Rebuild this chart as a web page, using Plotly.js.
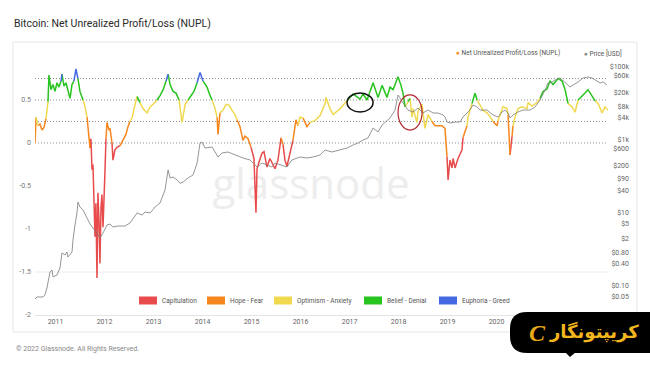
<!DOCTYPE html>
<html><head><meta charset="utf-8">
<script src="https://cdn.plot.ly/plotly-3.0.1.min.js"></script>
<style>html,body{margin:0;padding:0;background:#fff;} #chart{width:650px;height:365px;}</style>
</head><body><div id="chart"></div>
<script>
// ---------- DATA ----------
const nuplYear = [2010.582,2010.603,2010.644,2010.684,2010.725,2010.766,2010.807,2010.848,2010.868,2010.909,2010.950,2010.990,2011.031,2011.072,2011.113,2011.133,2011.174,2011.215,2011.256,2011.297,2011.337,2011.378,2011.419,2011.460,2011.501,2011.562,2011.603,2011.644,2011.664,2011.705,2011.725,2011.746,2011.766,2011.807,2011.827,2011.848,2011.868,2011.888,2011.909,2011.929,2011.950,2011.970,2011.990,2012.011,2012.031,2012.052,2012.092,2012.113,2012.154,2012.174,2012.215,2012.256,2012.317,2012.378,2012.439,2012.480,2012.521,2012.562,2012.623,2012.664,2012.725,2012.786,2012.868,2012.929,2012.990,2013.072,2013.133,2013.195,2013.256,2013.297,2013.337,2013.399,2013.460,2013.521,2013.582,2013.644,2013.705,2013.766,2013.827,2013.888,2013.950,2014.011,2014.092,2014.154,2014.195,2014.256,2014.297,2014.317,2014.358,2014.419,2014.480,2014.541,2014.603,2014.664,2014.705,2014.766,2014.827,2014.868,2014.929,2014.990,2015.052,2015.092,2015.113,2015.154,2015.215,2015.256,2015.317,2015.378,2015.439,2015.480,2015.541,2015.603,2015.644,2015.684,2015.725,2015.786,2015.848,2015.909,2015.950,2015.990,2016.052,2016.113,2016.133,2016.195,2016.297,2016.399,2016.501,2016.521,2016.603,2016.664,2016.807,2016.950,2017.072,2017.215,2017.276,2017.358,2017.480,2017.582,2017.664,2017.766,2017.827,2017.888,2017.990,2018.052,2018.092,2018.133,2018.195,2018.235,2018.276,2018.297,2018.378,2018.399,2018.480,2018.501,2018.541,2018.603,2018.684,2018.746,2018.888,2018.950,2018.990,2019.011,2019.052,2019.092,2019.113,2019.154,2019.215,2019.256,2019.297,2019.317,2019.399,2019.419,2019.501,2019.562,2019.603,2019.664,2019.725,2019.807,2019.868,2019.929,2020.011,2020.031,2020.072,2020.133,2020.215,2020.235,2020.276,2020.317,2020.337,2020.378,2020.439,2020.521,2020.623,2020.644,2020.725,2020.827,2020.888,2020.950,2021.031,2021.092,2021.154,2021.256,2021.337,2021.399,2021.460,2021.541,2021.603,2021.664,2021.746,2021.807,2021.868,2021.950,2022.011,2022.072,2022.154,2022.215,2022.276];
const nuplValue = [0.00,0.30,0.20,0.22,0.15,0.18,0.28,0.48,0.79,0.62,0.68,0.60,0.70,0.65,0.72,0.80,0.66,0.70,0.62,0.52,0.68,0.72,0.86,0.75,0.60,0.50,0.42,0.30,0.15,-0.06,0.05,-0.31,-0.25,-1.09,-0.70,-1.57,-0.58,-0.90,-1.40,-0.75,-0.60,-0.98,-0.50,-0.31,0.05,0.24,0.15,0.17,0.00,-0.20,-0.08,-0.05,-0.03,0.03,0.10,0.19,0.25,0.29,0.45,0.54,0.47,0.40,0.35,0.42,0.45,0.50,0.55,0.62,0.72,0.80,0.68,0.60,0.58,0.50,0.24,0.45,0.50,0.55,0.60,0.70,0.82,0.72,0.65,0.55,0.50,0.40,0.30,0.10,0.35,0.38,0.45,0.44,0.38,0.33,0.27,0.19,0.03,0.08,0.05,-0.05,-0.18,-0.81,-0.30,-0.22,-0.12,-0.10,-0.28,-0.18,-0.25,-0.30,-0.20,0.06,-0.02,-0.20,-0.27,-0.12,0.03,0.27,0.20,0.30,0.29,0.20,0.19,0.24,0.26,0.32,0.46,0.53,0.40,0.33,0.40,0.49,0.57,0.51,0.57,0.50,0.70,0.53,0.67,0.53,0.65,0.62,0.77,0.67,0.58,0.42,0.48,0.52,0.30,0.40,0.24,0.37,0.45,0.35,0.17,0.33,0.25,0.20,0.20,0.17,-0.16,-0.43,-0.20,-0.29,-0.18,-0.29,-0.18,-0.13,-0.08,0.06,0.20,0.30,0.46,0.58,0.50,0.44,0.38,0.35,0.31,0.25,0.20,0.26,0.33,0.42,0.40,0.33,-0.14,0.08,0.20,0.30,0.40,0.42,0.40,0.47,0.43,0.47,0.52,0.60,0.63,0.72,0.68,0.75,0.72,0.62,0.46,0.42,0.36,0.50,0.54,0.58,0.62,0.54,0.49,0.46,0.35,0.42,0.38];

const priceYear = [2010.582,2010.623,2010.746,2010.786,2010.827,2010.888,2010.929,2010.950,2011.031,2011.092,2011.133,2011.195,2011.235,2011.256,2011.337,2011.358,2011.399,2011.439,2011.460,2011.501,2011.562,2011.644,2011.705,2011.766,2011.848,2011.909,2011.970,2012.052,2012.113,2012.174,2012.276,2012.419,2012.521,2012.664,2012.766,2012.827,2012.929,2013.031,2013.133,2013.235,2013.297,2013.337,2013.399,2013.480,2013.541,2013.603,2013.705,2013.807,2013.888,2013.950,2013.990,2014.052,2014.195,2014.317,2014.399,2014.521,2014.664,2014.827,2014.970,2015.113,2015.215,2015.317,2015.419,2015.480,2015.582,2015.725,2015.827,2015.929,2015.990,2016.133,2016.256,2016.399,2016.501,2016.644,2016.807,2016.950,2017.072,2017.174,2017.276,2017.378,2017.480,2017.582,2017.664,2017.725,2017.827,2017.929,2017.990,2018.031,2018.092,2018.195,2018.297,2018.399,2018.501,2018.603,2018.705,2018.807,2018.909,2018.950,2018.990,2019.052,2019.154,2019.256,2019.317,2019.399,2019.460,2019.521,2019.603,2019.664,2019.807,2019.929,2020.031,2020.113,2020.174,2020.235,2020.276,2020.337,2020.439,2020.542,2020.684,2020.786,2020.888,2020.990,2021.052,2021.133,2021.195,2021.297,2021.399,2021.501,2021.562,2021.664,2021.766,2021.868,2021.950,2022.011,2022.113,2022.174,2022.256];
const priceUsd = [0.044,0.05,0.05,0.057,0.088,0.242,0.274,0.177,0.20,0.311,0.80,0.71,0.855,0.62,0.855,1.82,4.69,10,20,14.6,12.1,7.29,5.0,3.88,2.83,2.07,2.83,4.69,5.0,4.13,4.40,4.40,5.32,10,8.81,10.6,10,14.6,18.8,42.7,151,91,96.9,80.2,65,70.7,91,110,234,828,882,604,643,342,441,469,388,321,283,182,234,207,182,234,207,182,283,321,342,321,342,388,532,469,532,604,730,828,1000,1134,2132,1656,2576,3113,4008,6637,17100,14150,10327,6637,5848,7533,5495,6637,5495,5495,4842,4266,3113,2924,3113,3113,4266,5495,6637,9099,8017,6637,6637,4842,4266,5848,6637,5495,4008,4842,5848,6637,6637,8017,12470,23440,36470,38810,44050,50000,36470,28310,32130,38810,50000,53210,50000,44050,36470,38810,32130];

const zoneNames = ['Capitulation','Hope - Fear','Optimism - Anxiety','Belief - Denial','Euphoria - Greed'];
const zoneColors = ['#e84b4b','#f5871e','#f0d94f','#27c31e','#4468e2'];
const zoneBounds = [0, 0.25, 0.5, 0.75];

const yearTicks = ['2011','2012','2013','2014','2015','2016','2017','2018','2019','2020'];
const nuplTickVals = [0.5, 0, -0.5, -1, -1.5, -2];
const nuplTickText = ['0.5', '0', '-0.5', '-1', '-1.5', '-2'];
const priceTickVals = [100000, 60000, 20000, 8000, 4000, 1000, 600, 200, 90, 40, 10, 5, 2, 0.8, 0.4, 0.1, 0.05, 0.02];
const priceTickText = ['$100k','$60k','$20k','$8k','$4k','$1k','$600','$200','$90','$40','$10','$5','$2','$0.80','$0.40','$0.10','$0.05','$0.02'];

// ---------- HELPERS ----------
const W = 650, H = 365, L = 35, R = 18, T = 60, B = 50;
const PW = W - L - R, PH = H - T - B;
const px = X => (X - L) / PW;
const py = Y => (H - B - Y) / PH;
function toDate(t) {
  const y = Math.floor(t);
  const s = Date.UTC(y, 0, 1), e = Date.UTC(y + 1, 0, 1);
  return new Date(s + (t - y) * (e - s)).toISOString().slice(0, 10);
}
const zoneOf = v => zoneBounds.filter(b => v >= b).length;

const nuplDates = nuplYear.map(toDate);
const priceDates = priceYear.map(toDate);

// split NUPL into coloured runs by zone (segment midpoint)
const traces = [];
for (let z = 0; z < zoneNames.length; z++) {
  const xs = [], ys = [];
  let last = -2;
  for (let i = 1; i < nuplValue.length; i++) {
    const zz = zoneOf((nuplValue[i - 1] + nuplValue[i]) / 2);
    if (zz !== z) continue;
    if (last !== i - 1) {
      if (xs.length) { xs.push(null); ys.push(null); }
      xs.push(nuplDates[i - 1]); ys.push(nuplValue[i - 1]);
    }
    xs.push(nuplDates[i]); ys.push(nuplValue[i]);
    last = i;
  }
  traces.push({type: 'scatter', mode: 'lines', name: zoneNames[z], x: xs, y: ys,
    line: {color: zoneColors[z], width: 1.5}, hoverinfo: 'skip', showlegend: false});
}
traces.push({type: 'scatter', mode: 'lines', name: 'Price [USD]', x: priceDates, y: priceUsd,
  yaxis: 'y2', line: {color: '#7b7b7b', width: 0.8}, hoverinfo: 'skip', showlegend: false});

// ---------- SHAPES / ANNOTATIONS ----------
const shapes = [];
shapes.push({type: 'rect', xref: 'paper', yref: 'paper', x0: px(13), x1: px(637), y0: py(42), y1: py(332),
  line: {color: '#e6e6e6', width: 1}, fillcolor: 'rgba(0,0,0,0)', layer: 'below'});
shapes.push({type: 'rect', xref: 'paper', yref: 'paper', x0: px(211), x1: px(411), y0: py(210), y1: py(160),
  line: {width: 0}, fillcolor: 'rgba(0,0,0,0)', layer: 'below',
  label: {text: 'glassnode', textposition: 'middle center', font: {family: 'Open Sans', size: 42, color: '#ededed'}}});
zoneBounds.forEach(b => shapes.push({type: 'line', xref: 'x domain', yref: 'y', x0: 0, x1: 1, y0: b, y1: b,
  line: {color: '#8f8f8f', width: 1, dash: '1px,2px'}, layer: 'below'}));
shapes.push({type: 'line', xref: 'x domain', yref: 'y', x0: 0, x1: 1, y0: -1.5, y1: -1.5,
  line: {color: '#ececec', width: 1}, layer: 'below'});
shapes.push({type: 'circle', xref: 'x', yref: 'y', x0: toDate(2016.95), x1: toDate(2017.48), y0: 0.36, y1: 0.58,
  line: {color: '#111', width: 1.5}});
shapes.push({type: 'circle', xref: 'x', yref: 'y', x0: toDate(2017.99), x1: toDate(2018.48), y0: 0.15, y1: 0.56,
  line: {color: '#b3262e', width: 1.2}});
const r = 17, lx = 510, ty = 312, by = 353, rx = 662;
const path = `M${px(lx + r)},${py(ty)} L${px(rx)},${py(ty)} L${px(rx)},${py(by)} L${px(lx + r)},${py(by)} ` +
  `Q${px(lx)},${py(by)} ${px(lx)},${py(by - r)} L${px(lx)},${py(ty + r)} Q${px(lx)},${py(ty)} ${px(lx + r)},${py(ty)} Z`;
shapes.push({type: 'path', xref: 'paper', yref: 'paper', path: path, fillcolor: '#000', line: {width: 0}, layer: 'above'});
shapes.push({type: 'path', xref: 'paper', yref: 'paper',
  path: `M${px(565)},${py(352)} L${px(576)},${py(352)} L${px(570)},${py(357)} Z`, fillcolor: '#000', line: {width: 0}, layer: 'above'});

const annotations = [];
annotations.push({xref: 'paper', yref: 'paper', x: px(14), y: py(349), xanchor: 'left', yanchor: 'middle', showarrow: false,
  text: '© 2022 Glassnode. All Rights Reserved.', font: {size: 7, color: '#888'}});
annotations.push({xref: 'paper', yref: 'paper', x: px(454), y: py(53), xanchor: 'left', yanchor: 'middle', showarrow: false,
  text: '<span style="color:#f7931a">●</span> Net Unrealized Profit/Loss (NUPL)', font: {size: 6.5, color: '#555'}});
annotations.push({xref: 'paper', yref: 'paper', x: px(582), y: py(53), xanchor: 'left', yanchor: 'middle', showarrow: false,
  text: '<span style="color:#8a8a8a">●</span> Price [USD]', font: {size: 6.5, color: '#555'}});
const legendBoxX = [139, 207, 274, 364, 439];
zoneNames.forEach((name, i) => {
  shapes.push({type: 'rect', xref: 'paper', yref: 'paper', x0: px(legendBoxX[i]), x1: px(legendBoxX[i] + 18),
    y0: py(304.5), y1: py(296.5), fillcolor: zoneColors[i], line: {width: 0}});
  annotations.push({xref: 'paper', yref: 'paper', x: px(legendBoxX[i] + 20.5), y: py(300.5), xanchor: 'left', yanchor: 'middle',
    showarrow: false, text: name, font: {size: 6.5, color: '#555'}});
});
annotations.push({xref: 'paper', yref: 'paper', x: px(537), y: py(333), xanchor: 'center', yanchor: 'middle', showarrow: false,
  text: '<b><i>C</i></b>', font: {family: 'Liberation Serif', size: 24, color: '#e8a819'}});
annotations.push({xref: 'paper', yref: 'paper', x: px(594), y: py(332), xanchor: 'center', yanchor: 'middle', showarrow: false,
  text: '<b>کریپتونگار</b>', font: {family: 'DejaVu Sans', size: 18, color: '#f3b61d'}});

const layout = {
  width: W, height: H,
  margin: {l: L, r: R, t: T, b: B, pad: 0},
  paper_bgcolor: '#fff', plot_bgcolor: 'rgba(0,0,0,0)',
  font: {family: 'Roboto, sans-serif', color: '#555'},
  showlegend: false,
  title: {text: 'Bitcoin: Net Unrealized Profit/Loss (NUPL)', x: 14 / W, xanchor: 'left', y: 1 - 23 / H, yanchor: 'middle',
    font: {size: 10.5, color: '#2a2a2a'}},
  xaxis: {type: 'date', domain: [0, 573 / PW], range: [toDate(2010.582), toDate(2022.276)],
    tickmode: 'array', tickvals: yearTicks.map(y => y + '-01-01'), ticktext: yearTicks,
    showgrid: false, zeroline: false, showline: true, linecolor: '#e3e3e3',
    ticks: '', tickfont: {size: 7, color: '#666'}},
  yaxis: {range: [-2, 0.965], tickmode: 'array', tickvals: nuplTickVals, ticktext: nuplTickText,
    ticklabelstandoff: 3,
    showgrid: false, zeroline: false, showline: false, ticks: '', tickfont: {size: 7, color: '#777'}},
  yaxis2: {type: 'log', overlaying: 'y', anchor: 'free', position: 1, side: 'right',
    range: [-1.795, 5.192], tickmode: 'array', tickvals: priceTickVals, ticktext: priceTickText,
    ticklabelposition: 'inside', showgrid: false, zeroline: false, showline: false, ticks: '',
    tickfont: {size: 7, color: '#666'}},
  shapes: shapes,
  annotations: annotations
};

Plotly.newPlot('chart', traces, layout, {staticPlot: true, displayModeBar: false});
</script></body></html>
